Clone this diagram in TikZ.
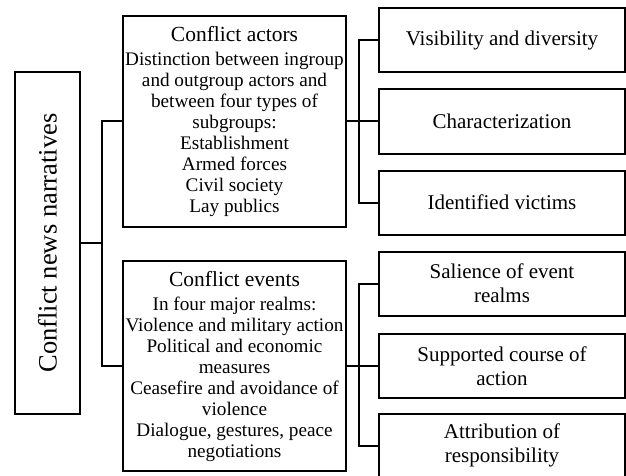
\documentclass[tikz,border=0pt]{standalone}
\usepackage{fontspec}
\setmainfont{Liberation Serif}
\begin{document}
\begin{tikzpicture}[x=1pt, y=-1pt, line width=2pt,
    box/.style={draw, rectangle, align=center, inner sep=0pt},
    bodyfont/.style={font=\fontsize{19.2}{21}\selectfont},
    leaf/.style={box, minimum width=246pt, minimum height=64pt,
        font=\fontsize{21}{24}\selectfont}]
\useasboundingbox (0,0) rectangle (626,476);

% root
\node[box, rotate=90, minimum width=342pt, minimum height=65pt,
    font=\fontsize{26.5}{30}\selectfont] (narr) at (47.5,243) {Conflict news narratives};

% middle level
\node[box, minimum width=223pt, minimum height=211pt, bodyfont] (actors) at (234.5,121.5)
    {{\fontsize{21.5}{24}\selectfont Conflict actors}\\[3pt]
     Distinction between ingroup\\ and outgroup actors and\\ between four types of\\
     subgroups:\\ Establishment\\ Armed forces\\ Civil society\\ Lay publics};
\node[box, minimum width=223pt, minimum height=210pt, bodyfont] (events) at (234.5,366)
    {{\fontsize{21.5}{24}\selectfont Conflict events}\\[3pt]
     In four major realms:\\ Violence and military action\\ Political and economic\\
     measures\\ Ceasefire and avoidance of\\ violence\\ Dialogue, gestures, peace\\
     negotiations};

% leaves
\node[leaf] (vis) at (502,40) {Visibility and diversity};
\node[leaf] (charac) at (502,121.5) {Characterization};
\node[leaf] (victims) at (502,202.5) {Identified victims};
\node[leaf] (salience) at (502,283.5) {Salience of event\\ realms};
\node[leaf] (course) at (502,366) {Supported course of\\ action};
\node[leaf] (attrib) at (502,445.5) {Attribution of\\ responsibility};

% connectors
\coordinate (rootbus) at (102,243);
\draw (narr.south) -- (rootbus);
\draw (actors.west) -| (rootbus) |- (events.west);
\foreach \src/\top/\mid/\bot in {actors/vis/charac/victims, events/salience/course/attrib}
{
    \draw (\src.east) -- ++(12,0) coordinate (bus);
    \draw (\top.west) -| (bus) |- (\bot.west);
    \draw (bus) -- (\mid.west);
}
\end{tikzpicture}
\end{document}
